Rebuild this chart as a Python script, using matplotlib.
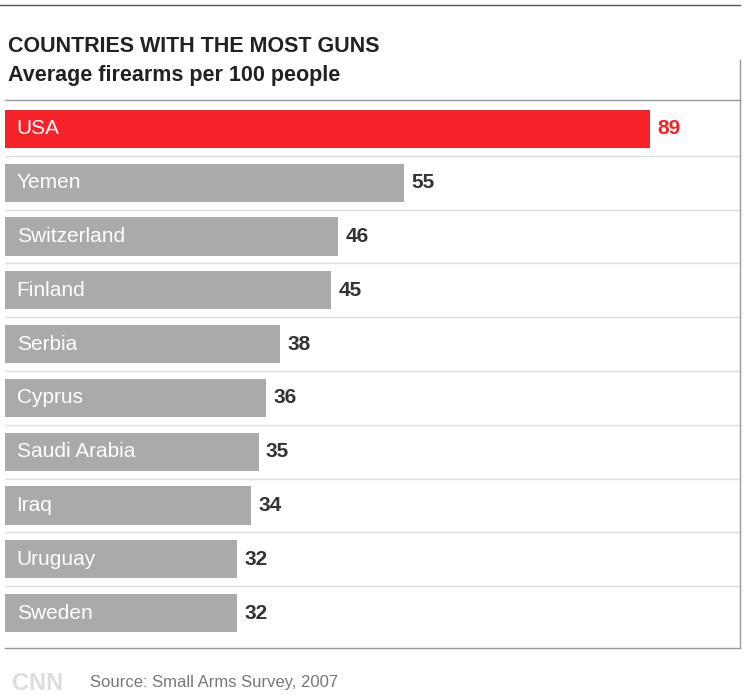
import matplotlib
matplotlib.use("Agg")
from matplotlib import pyplot as plt

countries = ["USA", "Yemen", "Switzerland", "Finland", "Serbia", "Cyprus",
             "Saudi Arabia", "Iraq", "Uruguay", "Sweden"]
values = [89, 55, 46, 45, 38, 36, 35, 34, 32, 32]

plt.rcParams["font.family"] = ["Liberation Sans Narrow", "Liberation Sans", "DejaVu Sans"]

W, H = 750, 698
fig = plt.figure(figsize=(W / 100, H / 100), dpi=100)
ax = fig.add_axes([5 / W, 1 - 640 / H, 735 / W, 538 / H])

red, gray = "#f5222a", "#aaaaaa"
colors = [red] + [gray] * (len(values) - 1)
ypos = list(range(len(values)))
ax.barh(ypos, values, height=0.71, color=colors)
for y, (c, v, col) in enumerate(zip(countries, values, colors)):
    ax.text(1.6, y, c, color="white", fontsize=15, va="center", ha="left")
    ax.text(v + 1, y, str(v), color=red if y == 0 else "#333333",
            fontsize=15, fontweight="bold", va="center", ha="left")
for y in range(len(values) - 1):
    ax.axhline(y + 0.5, color="#dddddd", lw=1)

ax.set_xlim(0, 735 / 7.25)
ax.set_ylim(len(values) - 0.5, -0.5)
ax.axis("off")

# frame lines
fig.add_artist(plt.Line2D([0, 740 / W], [1 - 5 / H] * 2, color="#555555", lw=1))
fig.add_artist(plt.Line2D([5 / W, 740 / W], [1 - 100 / H] * 2, color="#999999", lw=1))
fig.add_artist(plt.Line2D([5 / W, 740 / W], [1 - 648 / H] * 2, color="#999999", lw=1))
fig.add_artist(plt.Line2D([740 / W] * 2, [1 - 60 / H, 1 - 648 / H], color="#999999", lw=1))

fig.text(8 / W, 1 - 46 / H, "COUNTRIES WITH THE MOST GUNS", fontsize=15.5,
         fontweight="bold", color="#222222", va="center")
fig.text(8 / W, 1 - 75 / H, "Average firearms per 100 people", fontsize=15.5,
         fontweight="bold", color="#222222", va="center")
fig.text(12 / W, 1 - 683 / H, "CNN", fontsize=17, fontweight="bold",
         color="#dddddd", va="center")
fig.text(90 / W, 1 - 683 / H, "Source: Small Arms Survey, 2007", fontsize=12,
         color="#777777", va="center", family=["Liberation Sans", "DejaVu Sans"])

fig.savefig("out.png", dpi=100, facecolor="white")
